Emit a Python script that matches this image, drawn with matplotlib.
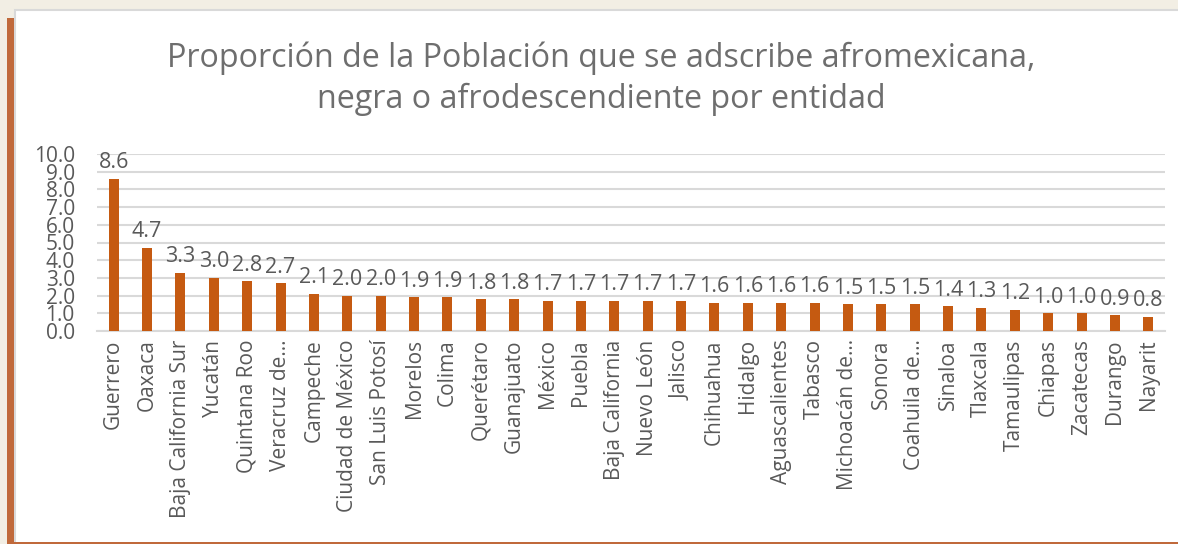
import matplotlib.pyplot as plt
from matplotlib.patches import Rectangle

plt.rcParams['font.family'] = ['Open Sans', 'DejaVu Sans']

estados = ['Guerrero', 'Oaxaca', 'Baja California Sur', 'Yucatán', 'Quintana Roo',
           'Veracruz de…', 'Campeche', 'Ciudad de México', 'San Luis Potosí', 'Morelos',
           'Colima', 'Querétaro', 'Guanajuato', 'México', 'Puebla', 'Baja California',
           'Nuevo León', 'Jalisco', 'Chihuahua', 'Hidalgo', 'Aguascalientes', 'Tabasco',
           'Michoacán de…', 'Sonora', 'Coahuila de…', 'Sinaloa', 'Tlaxcala', 'Tamaulipas',
           'Chiapas', 'Zacatecas', 'Durango', 'Nayarit']
valores = [8.6, 4.7, 3.3, 3.0, 2.8, 2.7, 2.1, 2.0, 2.0, 1.9, 1.9, 1.8, 1.8, 1.7, 1.7, 1.7,
           1.7, 1.7, 1.6, 1.6, 1.6, 1.6, 1.5, 1.5, 1.5, 1.4, 1.3, 1.2, 1.0, 1.0, 0.9, 0.8]
yticks = [0, 1, 2, 3, 4, 5, 6, 7, 8, 9, 10]

gris = '#595959'
naranja = '#C55A11'

W, H = 1178, 544
fig = plt.figure(figsize=(W / 100, H / 100), dpi=100)
fig.patch.set_facecolor('#F2EEE4')

# white panel and the orange strip on the left (behind the axes)
fig.add_artist(Rectangle((15 / W, 0), 1, 1 - 10 / H, transform=fig.transFigure,
                         facecolor='white', edgecolor='#D9D9D9', lw=1.5, zorder=-2))
fig.add_artist(Rectangle((7 / W, 0), 7 / W, 1 - 18 / H, transform=fig.transFigure,
                         facecolor='#C0693B', edgecolor='none', zorder=-1))
fig.add_artist(Rectangle((14 / W, 0), 1, 2 / H, transform=fig.transFigure,
                         facecolor='#C0693B', edgecolor='none', zorder=-1))

ax = fig.add_axes([97 / W, 1 - 331 / H, (1165 - 97) / W, (331 - 154) / H])
ax.set_facecolor('none')
x = range(len(estados))
ax.bar(x, valores, width=0.3, color=naranja, zorder=3)
for i, v in enumerate(valores):
    ax.annotate(f'{v:.1f}', (i, v), xytext=(0, 4), textcoords='offset points',
                ha='center', va='bottom', fontsize=15.5, color=gris)

ax.set_xlim(-0.5, len(estados) - 0.5)
ax.set_ylim(0, 10)
ax.set_yticks(yticks)
ax.set_yticklabels([f'{t:.1f}' for t in yticks], fontsize=15, color=gris)
ax.set_xticks(list(x))
ax.set_xticklabels(estados, rotation=90, fontsize=15, color=gris)
ax.tick_params(axis='both', length=0, pad=6)
ax.tick_params(axis='y', pad=16)
ax.grid(axis='y', color='#D9D9D9', lw=1.5, zorder=0)
for s in ['top', 'right', 'left']:
    ax.spines[s].set_visible(False)
ax.spines['bottom'].set_color('#D9D9D9')
ax.spines['bottom'].set_linewidth(1.5)

fig.text(0.5 + 12 / W, 1 - 79 / H,
         'Proporción de la Población que se adscribe afromexicana,\nnegra o afrodescendiente por entidad',
         ha='center', va='center', fontsize=23.2, color='#6E6E6E', linespacing=1.3)

fig.savefig('out.png', dpi=100, facecolor=fig.get_facecolor())
